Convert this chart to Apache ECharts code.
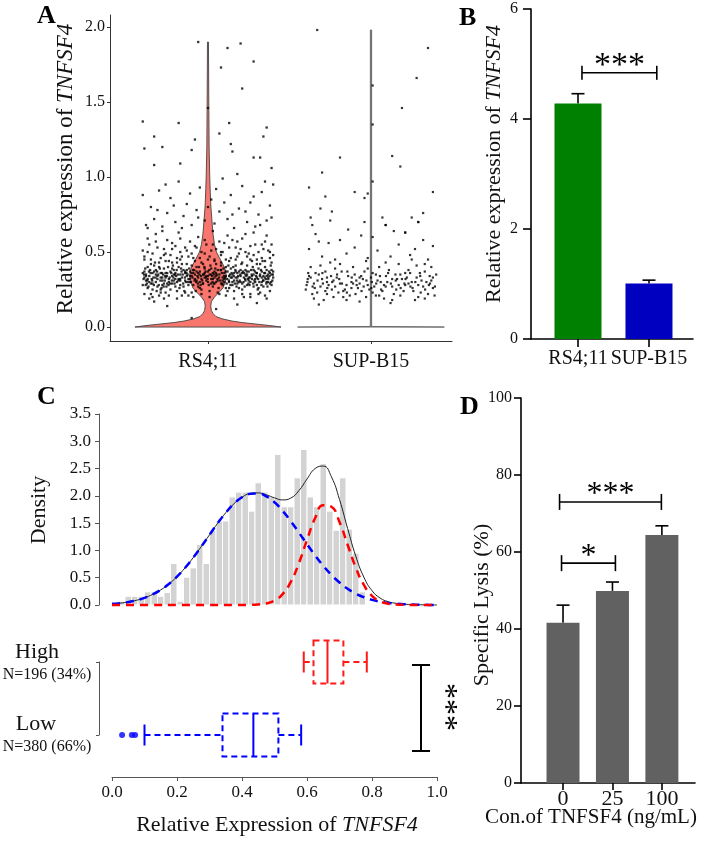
<!DOCTYPE html>
<html><head><meta charset="utf-8">
<script src="https://cdn.jsdelivr.net/npm/echarts@6/dist/echarts.min.js"></script>
<style>html,body{margin:0;padding:0;background:#fff}#c{width:709px;height:842px}</style>
</head><body><div id="c"></div><script>
// ---------- Panel A data ----------
const catA = ['RS4;11', 'SUP-B15'];
const yTicksA = [0, 0.5, 1.0, 1.5, 2.0];
const violinRsY = [0, 0.01, 0.02, 0.03, 0.04, 0.055, 0.07, 0.09, 0.11, 0.14, 0.17, 0.2, 0.23, 0.26, 0.3, 0.35, 0.39, 0.43, 0.46, 0.5, 0.55, 0.62, 0.7, 0.8, 0.9, 1.0, 1.2, 1.5, 1.9];
const violinRsW = [0.448, 0.38, 0.294, 0.209, 0.147, 0.086, 0.049, 0.031, 0.021, 0.017, 0.021, 0.04, 0.067, 0.092, 0.107, 0.112, 0.104, 0.086, 0.071, 0.052, 0.04, 0.031, 0.025, 0.018, 0.014, 0.011, 0.007, 0.005, 0.003];
const violinSupY = [0, 0.004, 1.98];
const violinSupW = [0.45, 0.004, 0.004];
const jitterRs = [
[-0.38,0.31],[-0.35,0.22],[-0.33,0.41],[-0.31,0.27],[-0.29,0.36],[-0.27,0.19],[-0.26,0.33],[-0.24,0.44],[-0.22,0.29],[-0.21,0.38],[-0.19,0.24],[-0.17,0.35],[-0.16,0.42],[-0.14,0.31],[-0.12,0.21],[-0.11,0.37],[-0.09,0.28],[-0.07,0.40],[-0.06,0.33],[-0.04,0.25],[-0.02,0.36],[0.00,0.30],[0.02,0.39],[0.03,0.27],[0.05,0.34],[0.07,0.22],[0.08,0.43],[0.10,0.32],[0.12,0.37],[0.13,0.26],[0.15,0.35],[0.17,0.41],[0.18,0.29],[0.20,0.34],[0.22,0.20],[0.23,0.38],[0.25,0.31],[0.27,0.44],[0.28,0.27],[0.30,0.36],[0.32,0.23],[0.33,0.33],[0.35,0.40],[0.37,0.30],[0.39,0.35],
[-0.39,0.37],[-0.37,0.26],[-0.36,0.34],[-0.34,0.29],[-0.32,0.38],[-0.30,0.21],[-0.28,0.31],[-0.25,0.36],[-0.23,0.25],[-0.20,0.32],[-0.18,0.40],[-0.15,0.27],[-0.13,0.34],[-0.10,0.23],[-0.08,0.35],[-0.05,0.30],[-0.03,0.42],[-0.01,0.34],[0.01,0.24],[0.04,0.37],[0.06,0.31],[0.09,0.28],[0.11,0.40],[0.14,0.33],[0.16,0.24],[0.19,0.37],[0.21,0.29],[0.24,0.35],[0.26,0.22],[0.29,0.32],[0.31,0.39],[0.34,0.27],[0.36,0.34],[0.38,0.24],[0.40,0.33],
[-0.40,0.28],[-0.38,0.35],[-0.36,0.19],[-0.34,0.36],[-0.31,0.32],[-0.29,0.25],[-0.27,0.39],[-0.25,0.29],[-0.22,0.34],[-0.20,0.27],[-0.18,0.32],[-0.16,0.21],[-0.13,0.38],[-0.11,0.30],[-0.09,0.36],[-0.06,0.27],[-0.04,0.32],[-0.02,0.39],[0.01,0.35],[0.03,0.32],[0.05,0.42],[0.08,0.29],[0.10,0.36],[0.12,0.24],[0.15,0.30],[0.17,0.37],[0.19,0.26],[0.22,0.33],[0.24,0.41],[0.26,0.30],[0.28,0.35],[0.31,0.26],[0.33,0.37],[0.35,0.21],[0.37,0.33],[0.39,0.28],
[-0.39,0.33],[-0.37,0.40],[-0.35,0.29],[-0.32,0.35],[-0.30,0.43],[-0.28,0.28],[-0.26,0.23],[-0.23,0.37],[-0.21,0.31],[-0.19,0.43],[-0.17,0.28],[-0.14,0.36],[-0.12,0.32],[-0.10,0.41],[-0.07,0.31],[-0.05,0.37],[-0.03,0.29],[0.00,0.37],[0.02,0.32],[0.04,0.29],[0.07,0.35],[0.09,0.33],[0.11,0.26],[0.14,0.39],[0.16,0.31],[0.18,0.36],[0.21,0.25],[0.23,0.31],[0.25,0.37],[0.27,0.32],[0.30,0.28],[0.32,0.42],[0.34,0.31],[0.36,0.38],[0.38,0.29],[0.40,0.37],
[-0.38,0.34],[-0.36,0.30],[-0.33,0.37],[-0.31,0.34],[-0.28,0.33],[-0.26,0.36],[-0.24,0.32],[-0.21,0.35],[-0.19,0.30],[-0.16,0.33],[-0.14,0.37],[-0.11,0.34],[-0.08,0.32],[-0.06,0.36],[-0.03,0.35],[-0.01,0.31],[0.02,0.35],[0.04,0.33],[0.06,0.38],[0.09,0.31],[0.11,0.34],[0.13,0.30],[0.16,0.36],[0.18,0.33],[0.20,0.30],[0.23,0.35],[0.25,0.33],[0.28,0.38],[0.30,0.33],[0.33,0.30],[0.35,0.36],[0.37,0.32],[0.39,0.38],
[-0.40,0.36],[-0.37,0.32],[-0.34,0.25],[-0.32,0.30],[-0.29,0.33],[-0.27,0.29],[-0.24,0.30],[-0.22,0.39],[-0.20,0.36],[-0.17,0.31],[-0.15,0.38],[-0.12,0.28],[-0.10,0.34],[-0.07,0.37],[-0.05,0.26],[-0.02,0.33],[0.00,0.34],[0.03,0.36],[0.05,0.30],[0.08,0.38],[0.10,0.30],[0.13,0.34],[0.15,0.28],[0.17,0.33],[0.20,0.38],[0.22,0.36],[0.24,0.28],[0.27,0.34],[0.29,0.30],[0.32,0.35],[0.34,0.34],[0.36,0.30],[0.38,0.36],
[-0.395,0.32],[-0.375,0.29],[-0.355,0.38],[-0.335,0.33],[-0.315,0.24],[-0.295,0.39],[-0.275,0.35],[-0.255,0.27],[-0.235,0.33],[-0.215,0.41],[-0.195,0.34],[-0.175,0.26],[-0.155,0.35],[-0.135,0.30],[-0.115,0.39],[-0.095,0.33],[-0.075,0.24],[-0.055,0.40],[-0.035,0.31],[-0.015,0.37],[0.005,0.28],[0.025,0.34],[0.045,0.39],[0.065,0.26],[0.085,0.36],[0.105,0.33],[0.125,0.41],[0.145,0.36],[0.165,0.29],[0.185,0.34],[0.205,0.42],[0.225,0.27],[0.245,0.32],[0.265,0.38],[0.285,0.31],[0.305,0.25],[0.325,0.38],[0.345,0.36],[0.365,0.27],[0.385,0.41],
[-0.385,0.39],[-0.365,0.27],[-0.345,0.32],[-0.325,0.43],[-0.305,0.35],[-0.285,0.26],[-0.265,0.31],[-0.245,0.40],[-0.225,0.36],[-0.205,0.29],[-0.185,0.35],[-0.165,0.39],[-0.145,0.24],[-0.125,0.35],[-0.105,0.30],[-0.085,0.38],[-0.065,0.34],[-0.045,0.28],[-0.025,0.35],[0.015,0.41],[0.035,0.29],[0.055,0.35],[0.075,0.31],[0.095,0.39],[0.115,0.29],[0.135,0.35],[0.155,0.40],[0.175,0.27],[0.195,0.31],[0.215,0.37],[0.235,0.34],[0.255,0.28],[0.275,0.40],[0.295,0.34],[0.315,0.30],[0.335,0.44],[0.355,0.32],[0.375,0.37],[0.395,0.31],
[-0.392,0.35],[-0.372,0.31],[-0.352,0.36],[-0.332,0.28],[-0.312,0.37],[-0.292,0.31],[-0.272,0.27],[-0.252,0.34],[-0.232,0.29],[-0.212,0.33],[-0.192,0.38],[-0.172,0.32],[-0.152,0.29],[-0.132,0.36],[-0.112,0.32],[-0.092,0.38],[-0.072,0.30],[-0.052,0.35],[-0.032,0.29],[-0.012,0.33],[0.008,0.38],[0.028,0.30],[0.048,0.36],[0.068,0.33],[0.088,0.29],[0.108,0.37],[0.128,0.31],[0.148,0.33],[0.168,0.38],[0.188,0.30],[0.208,0.36],[0.228,0.32],[0.248,0.29],[0.268,0.35],[0.288,0.37],[0.308,0.32],[0.328,0.28],[0.348,0.33],[0.368,0.35],[0.388,0.30],
[-0.382,0.28],[-0.362,0.37],[-0.342,0.31],[-0.322,0.33],[-0.302,0.28],[-0.282,0.36],[-0.262,0.34],[-0.242,0.28],[-0.222,0.31],[-0.202,0.35],[-0.182,0.31],[-0.162,0.37],[-0.142,0.33],[-0.122,0.30],[-0.102,0.36],[-0.082,0.31],[-0.062,0.29],[-0.042,0.34],[-0.022,0.40],[-0.002,0.32],[0.018,0.29],[0.038,0.35],[0.058,0.32],[0.078,0.38],[0.098,0.34],[0.118,0.32],[0.138,0.28],[0.158,0.34],[0.178,0.31],[0.198,0.35],[0.218,0.30],[0.238,0.37],[0.258,0.33],[0.278,0.29],[0.298,0.36],[0.318,0.34],[0.338,0.31],[0.358,0.29],[0.378,0.34],[0.398,0.35],
[-0.39,0.45],[-0.35,0.42],[-0.30,0.40],[-0.26,0.44],[-0.22,0.43],[-0.17,0.45],[-0.13,0.42],[-0.08,0.44],[-0.04,0.43],[0.00,0.45],[0.04,0.44],[0.08,0.41],[0.13,0.44],[0.17,0.45],[0.21,0.43],[0.26,0.45],[0.30,0.42],[0.35,0.44],[0.39,0.43],
[-0.39,0.22],[-0.34,0.20],[-0.29,0.23],[-0.24,0.21],[-0.19,0.19],[-0.14,0.23],[-0.09,0.20],[-0.04,0.22],[0.01,0.20],[0.06,0.23],[0.11,0.21],[0.16,0.19],[0.21,0.22],[0.26,0.20],[0.31,0.22],[0.36,0.19],
[-0.39,0.47],[-0.36,0.55],[-0.34,0.49],[-0.32,0.62],[-0.29,0.46],[-0.27,0.52],[-0.25,0.58],[-0.23,0.48],[-0.20,0.54],[-0.18,0.63],[-0.16,0.47],[-0.13,0.51],[-0.11,0.57],[-0.09,0.46],[-0.06,0.60],[-0.04,0.50],[-0.01,0.55],[0.01,0.47],[0.03,0.64],[0.05,0.52],[0.08,0.48],[0.10,0.56],[0.12,0.61],[0.14,0.46],[0.17,0.53],[0.19,0.49],[0.21,0.59],[0.24,0.47],[0.26,0.54],[0.28,0.63],[0.31,0.50],[0.33,0.46],[0.35,0.57],[0.37,0.51],[0.40,0.48],
[-0.40,0.51],[-0.37,0.59],[-0.35,0.45],[-0.31,0.53],[-0.28,0.64],[-0.26,0.49],[-0.22,0.56],[-0.19,0.46],[-0.17,0.59],[-0.14,0.53],[-0.10,0.49],[-0.08,0.54],[-0.05,0.46],[-0.02,0.58],[0.02,0.51],[0.04,0.45],[0.07,0.57],[0.09,0.50],[0.11,0.45],[0.15,0.58],[0.18,0.47],[0.20,0.52],[0.23,0.62],[0.25,0.49],[0.29,0.55],[0.30,0.45],[0.34,0.52],[0.36,0.61],[0.38,0.46],[0.39,0.55],
[-0.37,0.50],[-0.32,0.57],[-0.27,0.48],[-0.22,0.52],[-0.17,0.50],[-0.12,0.47],[-0.07,0.53],[-0.02,0.49],[0.03,0.55],[0.08,0.50],[0.13,0.53],[0.18,0.57],[0.23,0.50],[0.28,0.48],[0.33,0.55],[0.38,0.50],
[-0.38,0.68],[-0.35,0.80],[-0.33,0.72],[-0.30,0.91],[-0.28,0.67],[-0.25,0.76],[-0.23,0.86],[-0.20,0.70],[-0.18,0.97],[-0.15,0.74],[-0.13,0.82],[-0.10,0.68],[-0.07,0.78],[-0.05,0.93],[-0.02,0.71],[0.02,0.85],[0.04,0.69],[0.07,0.77],[0.09,0.99],[0.12,0.72],[0.14,0.88],[0.16,0.66],[0.19,0.79],[0.21,0.94],[0.24,0.70],[0.26,0.83],[0.29,0.67],[0.31,0.75],[0.33,0.90],[0.36,0.71],[0.38,0.81],[0.40,0.95],
[-0.40,0.88],[-0.37,0.66],[-0.31,0.78],[-0.26,0.95],[-0.21,0.81],[-0.16,0.66],[-0.11,0.89],[-0.06,0.73],[0.00,0.80],[0.05,0.92],[0.10,0.83],[0.15,0.75],[0.18,1.02],[0.23,0.77],[0.28,0.87],[0.32,0.68],[0.35,0.97],[0.39,0.73],
[-0.40,1.37],[-0.39,1.19],[-0.33,1.27],[-0.28,1.20],[-0.33,1.08],[-0.18,1.36],[-0.08,1.25],[-0.06,1.90],[0.07,1.29],[0.12,1.86],[0.08,1.73],[0.13,1.36],[0.20,1.89],[0.21,1.59],[0.28,1.77],[0.36,1.33],[0.34,1.27],[0.00,1.46],[0.15,1.17],[0.28,1.13],[0.32,1.13],[-0.10,1.18],[0.14,1.22],[-0.17,1.09],[0.39,1.06],
[-0.25,0.14],[0.05,0.12],[-0.10,0.06],[0.30,0.16],[-0.33,0.17],[0.18,0.15]
];
const jitterSup = [
[-0.39,0.30],[-0.36,0.22],[-0.34,0.36],[-0.31,0.27],[-0.29,0.18],[-0.27,0.33],[-0.24,0.25],[-0.22,0.39],[-0.19,0.29],[-0.17,0.20],[-0.14,0.34],[-0.12,0.26],[-0.09,0.31],[-0.07,0.17],[-0.04,0.37],[-0.02,0.28],[0.01,0.23],[0.03,0.35],[0.06,0.30],[0.08,0.19],[0.11,0.38],[0.13,0.27],[0.16,0.32],[0.18,0.21],[0.21,0.36],[0.23,0.29],[0.26,0.24],[0.28,0.41],[0.31,0.31],[0.33,0.19],[0.36,0.34],[0.38,0.26],
[-0.40,0.25],[-0.37,0.40],[-0.35,0.29],[-0.32,0.15],[-0.30,0.32],[-0.28,0.24],[-0.25,0.43],[-0.23,0.31],[-0.20,0.23],[-0.18,0.37],[-0.15,0.28],[-0.13,0.21],[-0.10,0.35],[-0.08,0.26],[-0.05,0.32],[-0.03,0.20],[0.00,0.33],[0.02,0.27],[0.05,0.40],[0.07,0.24],[0.10,0.30],[0.12,0.16],[0.15,0.35],[0.17,0.28],[0.20,0.24],[0.22,0.33],[0.25,0.30],[0.27,0.18],[0.30,0.36],[0.32,0.27],[0.35,0.22],[0.37,0.31],[0.40,0.35],
[-0.38,0.34],[-0.33,0.23],[-0.28,0.37],[-0.26,0.28],[-0.21,0.33],[-0.16,0.25],[-0.11,0.29],[-0.06,0.34],[-0.01,0.25],[0.04,0.31],[0.09,0.27],[0.14,0.22],[0.19,0.32],[0.24,0.36],[0.29,0.28],[0.34,0.30],[0.39,0.21],
[-0.395,0.28],[-0.37,0.33],[-0.345,0.26],[-0.32,0.35],[-0.295,0.29],[-0.27,0.22],[-0.245,0.34],[-0.22,0.27],[-0.195,0.32],[-0.17,0.24],[-0.145,0.37],[-0.12,0.30],[-0.095,0.22],[-0.07,0.33],[-0.045,0.27],[-0.02,0.39],[0.005,0.30],[0.03,0.21],[0.055,0.34],[0.08,0.28],[0.105,0.36],[0.13,0.32],[0.155,0.25],[0.18,0.35],[0.205,0.29],[0.23,0.38],[0.255,0.26],[0.28,0.33],[0.305,0.23],[0.33,0.37],[0.355,0.28],[0.38,0.33],
[-0.385,0.36],[-0.35,0.19],[-0.31,0.41],[-0.27,0.30],[-0.23,0.20],[-0.19,0.42],[-0.15,0.18],[-0.11,0.40],[-0.07,0.29],[-0.03,0.44],[0.01,0.36],[0.05,0.21],[0.09,0.43],[0.13,0.18],[0.17,0.42],[0.21,0.28],[0.25,0.45],[0.29,0.20],[0.33,0.42],[0.37,0.40],
[-0.388,0.32],[-0.358,0.27],[-0.328,0.31],[-0.298,0.36],[-0.268,0.26],[-0.238,0.30],[-0.208,0.35],[-0.178,0.29],[-0.148,0.23],[-0.118,0.33],[-0.088,0.28],[-0.058,0.24],[-0.028,0.31],[0.002,0.26],[0.032,0.29],[0.062,0.25],[0.092,0.34],[0.122,0.29],[0.152,0.31],[0.182,0.26],[0.212,0.32],[0.242,0.27],[0.272,0.30],[0.302,0.34],[0.332,0.25],[0.362,0.29],[0.392,0.27],
[-0.38,0.52],[-0.34,0.62],[-0.36,0.68],[-0.30,0.47],[-0.26,0.56],[-0.19,0.58],[-0.15,0.49],[-0.10,0.53],[-0.06,0.61],[-0.02,0.46],[0.01,0.60],[0.04,0.51],[0.09,0.68],[0.12,0.47],[0.17,0.55],[0.21,0.63],[0.24,0.48],[0.27,0.52],[0.29,0.70],[0.32,0.58],[0.35,0.45],[0.38,0.54],[-0.22,0.45],[0.14,0.64],[-0.32,0.57],
[-0.38,0.93],[-0.28,0.87],[-0.10,0.90],[0.01,0.97],[-0.02,0.89],[0.38,0.90],[-0.04,0.86],[-0.31,0.79],[-0.24,0.77],[-0.37,0.73],[-0.25,0.71],[-0.04,0.70],[-0.14,0.65],[0.07,0.73],[0.25,0.73],[0.32,0.76],[0.29,0.70],[0.21,0.63],[0.09,0.68],
[-0.19,1.13],[0.13,1.14],[0.18,1.07],[-0.30,1.03],[-0.33,1.98],[0.35,1.86],[0.28,1.66],[0.19,1.46],[0.01,1.61],[0.01,1.35]
];
// ---------- Panel B data ----------
const catB = ['RS4;11', 'SUP-B15'];
const meanB = [4.28, 1.01];
const errB = [0.18, 0.06];
const sigB = [[1.056, 2.11, 4.84]];
const sigBLabel = ['***'];
// ---------- Panel C data ----------
const histBinWidth = 0.02;
const histDensity = [0, 0.07, 0.16, 0.16, 0.16, 0.24, 0.24, 0.16, 0.23, 0.76, 0.07, 0.51, 0.68, 1.11, 0.76, 1.37, 1.54, 1.54, 1.98, 2.07, 2.07, 1.72, 2.24, 2.07, 1.98, 2.76, 1.80, 1.80, 2.33, 2.85, 1.98, 1.80, 2.59, 1.72, 1.37, 2.33, 1.39, 0.95, 0.24];
const curveX = [0, 0.025, 0.05, 0.075, 0.1, 0.125, 0.15, 0.175, 0.2, 0.225, 0.25, 0.275, 0.3, 0.325, 0.35, 0.375, 0.4, 0.425, 0.45, 0.475, 0.5, 0.525, 0.55, 0.575, 0.6, 0.625, 0.65, 0.675, 0.7, 0.725, 0.75, 0.775, 0.8, 0.825, 0.85, 0.875, 0.9, 0.925, 0.95, 0.975, 1.0];
const curveLow = [0.021, 0.034, 0.055, 0.086, 0.131, 0.194, 0.277, 0.386, 0.521, 0.683, 0.869, 1.073, 1.286, 1.497, 1.691, 1.854, 1.974, 2.039, 2.045, 1.991, 1.882, 1.726, 1.537, 1.329, 1.115, 0.908, 0.718, 0.551, 0.411, 0.297, 0.209, 0.142, 0.094, 0.060, 0.038, 0.023, 0.013, 0.008, 0.004, 0.002, 0.001];
const curveHigh = [0, 0, 0, 0, 0, 0, 0, 0, 0, 0, 0, 0, 0, 0, 0, 0, 0.001, 0.002, 0.009, 0.028, 0.081, 0.200, 0.422, 0.766, 1.193, 1.593, 1.828, 1.800, 1.522, 1.104, 0.688, 0.368, 0.169, 0.067, 0.023, 0.007, 0.002, 0, 0, 0, 0];
const curveTotal = [0.021, 0.034, 0.055, 0.086, 0.131, 0.194, 0.277, 0.386, 0.521, 0.683, 0.869, 1.073, 1.286, 1.497, 1.691, 1.854, 1.975, 2.041, 2.054, 2.019, 1.963, 1.926, 1.959, 2.095, 2.308, 2.501, 2.546, 2.351, 1.933, 1.401, 0.897, 0.510, 0.263, 0.127, 0.061, 0.030, 0.015, 0.008, 0.004, 0.002, 0.001];
const boxGroups = ['Low', 'High'];
const groupN = ['N=380 (66%)', 'N=196 (34%)'];
const boxStats = [[0.10, 0.34, 0.435, 0.512, 0.582], [0.59, 0.62, 0.663, 0.712, 0.784]];
const outliersLow = [0.031, 0.061, 0.071];
// ---------- Panel D data ----------
const catD = ['0', '25', '100'];
const meanD = [41.6, 49.9, 64.4];
const errD = [4.6, 2.3, 2.4];
const sigD = [[-0.03, 1.06, 57.1], [-0.07, 1.99, 73]];
const sigDLabel = ['*', '***'];

// ---------- helpers ----------
const FF = 'Liberation Serif';
const boxColors = ['#0000FF', '#FF1A1A'];

function violin(center, ys, ws, fill, stroke) {
  return {
    type: 'custom', xAxisIndex: 0, yAxisIndex: 0, clip: false, z: 1,
    data: [[center, 0]],
    renderItem: function (params, api) {
      const pts = [];
      for (let i = 0; i < ys.length; i++) pts.push(api.coord([center + ws[i], ys[i]]));
      for (let i = ys.length - 1; i >= 0; i--) pts.push(api.coord([center - ws[i], ys[i]]));
      return { type: 'polygon', shape: { points: pts }, style: { fill: fill, stroke: stroke, lineWidth: 0.9 } };
    }
  };
}
function errSeries(xi, means, errs, xs, cap, lw) {
  return {
    type: 'custom', xAxisIndex: xi, yAxisIndex: xi, z: 1,
    data: means.map((m, i) => [xs[i], m, m + errs[i]]),
    renderItem: function (params, api) {
      const a = api.coord([api.value(0), api.value(1)]);
      const b = api.coord([api.value(0), api.value(2)]);
      return { type: 'group', children: [
        { type: 'line', shape: { x1: a[0], y1: a[1], x2: b[0], y2: b[1] }, style: { stroke: '#000', lineWidth: lw } },
        { type: 'line', shape: { x1: b[0] - cap, y1: b[1], x2: b[0] + cap, y2: b[1] }, style: { stroke: '#000', lineWidth: lw } }
      ] };
    }
  };
}
function bracketSeries(xi, list, labels, tick, fs) {
  return {
    type: 'custom', xAxisIndex: xi, yAxisIndex: xi, clip: false, z: 5,
    data: list,
    renderItem: function (params, api) {
      const a = api.coord([api.value(0), api.value(2)]);
      const b = api.coord([api.value(1), api.value(2)]);
      const st = { stroke: '#000', lineWidth: 1.6 };
      return { type: 'group', children: [
        { type: 'line', shape: { x1: a[0], y1: a[1], x2: b[0], y2: b[1] }, style: st },
        { type: 'line', shape: { x1: a[0], y1: a[1] - tick, x2: a[0], y2: a[1] + tick }, style: st },
        { type: 'line', shape: { x1: b[0], y1: b[1] - tick, x2: b[0], y2: b[1] + tick }, style: st },
        { type: 'text', x: (a[0] + b[0]) / 2, y: a[1] - 7, style: { text: labels[params.dataIndex], fontSize: fs, fontFamily: FF, fill: '#000', align: 'center', verticalAlign: 'middle' } }
      ] };
    }
  };
}

const chart = echarts.init(document.getElementById('c'));
const axLabel = (size, extra) => Object.assign({ fontFamily: FF, fontSize: size, color: '#111', showMinLabel: true, showMaxLabel: true, hideOverlap: false, interval: 0 }, extra || {});
const noZero = (o) => Object.assign({ show: true, onZero: false }, o);

const option = {
  backgroundColor: '#fff',
  animation: false,
  grid: [
    { left: 110, top: 15, width: 342, height: 326 },
    { left: 531, top: 9, width: 162, height: 330 },
    { left: 112, top: 414, width: 325, height: 191 },
    { left: 112, top: 662, width: 325, height: 73 },
    { left: 521, top: 398, width: 174, height: 385 }
  ],
  xAxis: [
    { gridIndex: 0, type: 'value', min: 0.399, max: 2.497, splitLine: { show: false },
      axisLine: noZero({ lineStyle: { color: '#333', width: 1 } }),
      axisTick: { show: true, customValues: [1, 2], length: 3, lineStyle: { color: '#333' } },
      axisLabel: axLabel(20, { customValues: [1, 2], margin: 11, formatter: v => catA[Math.round(v) - 1] }) },
    { gridIndex: 1, type: 'value', min: 0.338, max: 2.62, splitLine: { show: false },
      axisLine: noZero({ lineStyle: { color: '#000', width: 1.6 } }),
      axisTick: { show: true, customValues: [1, 2], length: 8, lineStyle: { color: '#000', width: 1.6 } },
      axisLabel: axLabel(20, { customValues: [1, 2], margin: 10, formatter: v => catB[Math.round(v) - 1] }) },
    { gridIndex: 2, type: 'value', min: 0, max: 1, show: false },
    { gridIndex: 3, type: 'value', min: 0, max: 1, interval: 0.2, offset: 42, splitLine: { show: false },
      axisLine: noZero({ lineStyle: { color: '#555', width: 1 } }),
      axisTick: { show: true, length: 4, lineStyle: { color: '#555' } },
      axisLabel: axLabel(17, { margin: 7, formatter: v => v.toFixed(1) }) },
    { gridIndex: 4, type: 'value', min: -0.85, max: 2.67, splitLine: { show: false },
      axisLine: noZero({ lineStyle: { color: '#000', width: 1.6 } }),
      axisTick: { show: true, customValues: [0, 1, 2], length: 7, lineStyle: { color: '#000', width: 1.6 } },
      axisLabel: axLabel(22, { customValues: [0, 1, 2], margin: 5, formatter: v => catD[Math.round(v)] }) }
  ],
  yAxis: [
    { gridIndex: 0, type: 'value', min: -0.093, max: 2.08, splitLine: { show: false },
      axisLine: noZero({ lineStyle: { color: '#333', width: 1 } }),
      axisTick: { show: true, customValues: yTicksA, length: 3, lineStyle: { color: '#333' } },
      axisLabel: axLabel(16, { customValues: yTicksA, margin: 5, formatter: v => v.toFixed(1) }) },
    { gridIndex: 1, type: 'value', min: 0, max: 6, interval: 2, splitLine: { show: false },
      axisLine: noZero({ lineStyle: { color: '#000', width: 1.6 } }),
      axisTick: { show: true, length: 8, lineStyle: { color: '#000', width: 1.6 } },
      axisLabel: axLabel(16, { margin: 13 }) },
    { gridIndex: 2, type: 'value', min: 0, max: 3.5, interval: 0.5, offset: 13, splitLine: { show: false },
      axisLine: noZero({ lineStyle: { color: '#555', width: 1 } }),
      axisTick: { show: true, length: 4, lineStyle: { color: '#555' } },
      axisLabel: axLabel(17, { margin: 8, formatter: v => v.toFixed(1) }) },
    { gridIndex: 3, type: 'category', data: boxGroups, boundaryGap: false, offset: 13,
      axisLine: noZero({ lineStyle: { color: '#555', width: 1 } }),
      axisTick: { show: true, length: 3, lineStyle: { color: '#555' } },
      axisLabel: { show: false } },
    { gridIndex: 4, type: 'value', min: 0, max: 100, interval: 20, splitLine: { show: false },
      axisLine: noZero({ lineStyle: { color: '#000', width: 1.6 } }),
      axisTick: { show: true, length: 7, lineStyle: { color: '#000', width: 1.6 } },
      axisLabel: axLabel(16, { margin: 9 }) }
  ],
  series: [
    // Panel A
    violin(1, violinRsY, violinRsW, '#F8766D', '#444'),
    violin(2, violinSupY, violinSupW, '#777', '#666'),
    { type: 'scatter', xAxisIndex: 0, yAxisIndex: 0, symbol: 'rect', symbolSize: 2.3, z: 3,
      itemStyle: { color: '#000' }, data: jitterRs.map(p => [1 + p[0], p[1]]) },
    { type: 'scatter', xAxisIndex: 0, yAxisIndex: 0, symbol: 'rect', symbolSize: 2.2, z: 3,
      itemStyle: { color: '#000' }, data: jitterSup.map(p => [2 + p[0], p[1]]) },
    // Panel B
    { type: 'bar', xAxisIndex: 1, yAxisIndex: 1, barWidth: 47, z: 2,
      data: meanB.map((m, i) => ({ value: [i + 1, m], itemStyle: { color: i === 0 ? '#008000' : '#0000C0' } })) },
    errSeries(1, meanB, errB, [1, 2], 6.5, 1.6),
    bracketSeries(1, sigB, sigBLabel, 7, 34),
    // Panel C histogram
    { type: 'custom', xAxisIndex: 2, yAxisIndex: 2, z: 1,
      data: histDensity.map((d, i) => [i * histBinWidth, (i + 1) * histBinWidth, d]),
      renderItem: function (params, api) {
        const p0 = api.coord([api.value(0), 0]);
        const p1 = api.coord([api.value(1), api.value(2)]);
        return { type: 'rect', shape: { x: p0[0], y: p1[1], width: p1[0] - p0[0], height: p0[1] - p1[1] },
          style: { fill: '#D3D3D3', stroke: '#fff', lineWidth: 1 } };
      } },
    { type: 'line', xAxisIndex: 2, yAxisIndex: 2, smooth: true, showSymbol: false, clip: false, z: 3,
      lineStyle: { color: '#222', width: 1 }, data: curveX.map((x, i) => [x, curveTotal[i]]) },
    { type: 'line', xAxisIndex: 2, yAxisIndex: 2, smooth: true, showSymbol: false, clip: false, z: 4,
      lineStyle: { color: '#0000FF', width: 2.5, type: [8, 6] }, data: curveX.map((x, i) => [x, curveLow[i]]) },
    { type: 'line', xAxisIndex: 2, yAxisIndex: 2, smooth: true, showSymbol: false, clip: false, z: 5,
      lineStyle: { color: '#FF0000', width: 2.5, type: [8, 6] }, data: curveX.map((x, i) => [x, curveHigh[i]]) },
    // Panel C boxplots
    { type: 'custom', xAxisIndex: 3, yAxisIndex: 3, clip: false, z: 3,
      data: boxStats.map((s, i) => [i].concat(s)),
      renderItem: function (params, api) {
        const cat = api.value(0);
        const c = boxColors[params.dataIndex];
        const P = v => api.coord([v, cat]);
        const mn = P(api.value(1)), q1 = P(api.value(2)), md = P(api.value(3)), q3 = P(api.value(4)), mx = P(api.value(5));
        const y = q1[1], h = 21.5, ch = 10.5;
        const dash = { stroke: c, lineWidth: 2, lineDash: [6, 4] };
        const solid = { stroke: c, lineWidth: 2 };
        return { type: 'group', children: [
          { type: 'rect', shape: { x: q1[0], y: y - h, width: q3[0] - q1[0], height: 2 * h }, style: Object.assign({ fill: 'none' }, dash) },
          { type: 'line', shape: { x1: md[0], y1: y - h, x2: md[0], y2: y + h }, style: solid },
          { type: 'line', shape: { x1: mn[0], y1: y, x2: q1[0], y2: y }, style: dash },
          { type: 'line', shape: { x1: q3[0], y1: y, x2: mx[0], y2: y }, style: dash },
          { type: 'line', shape: { x1: mn[0], y1: y - ch, x2: mn[0], y2: y + ch }, style: solid },
          { type: 'line', shape: { x1: mx[0], y1: y - ch, x2: mx[0], y2: y + ch }, style: solid }
        ] };
      } },
    { type: 'scatter', xAxisIndex: 3, yAxisIndex: 3, symbol: 'circle', symbolSize: 6, clip: false, z: 4,
      itemStyle: { color: '#0000FF' }, data: outliersLow.map(v => [v, 0]) },
    // Panel D
    { type: 'bar', xAxisIndex: 4, yAxisIndex: 4, barWidth: 33, z: 2, itemStyle: { color: '#616161' },
      data: meanD.map((m, i) => [i, m]) },
    errSeries(4, meanD, errD, [0, 1, 2], 6.5, 1.6),
    bracketSeries(4, sigD, sigDLabel, 8, 32)
  ],
  graphic: [
    { type: 'text', x: 37, y: 16, style: { text: 'A', font: 'bold 26px "Liberation Serif"', fill: '#000', verticalAlign: 'middle' } },
    { type: 'text', x: 459, y: 18, style: { text: 'B', font: 'bold 26px "Liberation Serif"', fill: '#000', verticalAlign: 'middle' } },
    { type: 'text', x: 37, y: 397, style: { text: 'C', font: 'bold 26px "Liberation Serif"', fill: '#000', verticalAlign: 'middle' } },
    { type: 'text', x: 460, y: 407, style: { text: 'D', font: 'bold 26px "Liberation Serif"', fill: '#000', verticalAlign: 'middle' } },
    { type: 'text', x: 66, y: 169, rotation: Math.PI / 2, style: { text: '{a|Relative expression of }{b|TNFSF4}', align: 'center', verticalAlign: 'middle',
      rich: { a: { fontFamily: FF, fontSize: 23, fill: '#111' }, b: { fontFamily: FF, fontSize: 23, fontStyle: 'italic', fill: '#111' } } } },
    { type: 'text', x: 494, y: 164, rotation: Math.PI / 2, style: { text: '{a|Relative expression of }{b|TNFSF4}', align: 'center', verticalAlign: 'middle',
      rich: { a: { fontFamily: FF, fontSize: 22, fill: '#111' }, b: { fontFamily: FF, fontSize: 22, fontStyle: 'italic', fill: '#111' } } } },
    { type: 'text', x: 39, y: 510, rotation: Math.PI / 2, style: { text: 'Density', font: '22px "Liberation Serif"', fill: '#111', align: 'center', verticalAlign: 'middle' } },
    { type: 'text', x: 277, y: 825, style: { text: '{a|Relative Expression of }{b|TNFSF4}', align: 'center', verticalAlign: 'middle',
      rich: { a: { fontFamily: FF, fontSize: 22, fill: '#111' }, b: { fontFamily: FF, fontSize: 22, fontStyle: 'italic', fill: '#111' } } } },
    { type: 'text', x: 482, y: 605, rotation: Math.PI / 2, style: { text: 'Specific Lysis (%)', font: '22px "Liberation Serif"', fill: '#111', align: 'center', verticalAlign: 'middle' } },
    { type: 'text', x: 591, y: 817, style: { text: 'Con.of TNFSF4 (ng/mL)', font: '21px "Liberation Serif"', fill: '#111', align: 'center', verticalAlign: 'middle' } },
    { type: 'text', x: 37, y: 652, style: { text: boxGroups[1], font: '22px "Liberation Serif"', fill: '#111', align: 'center', verticalAlign: 'middle' } },
    { type: 'text', x: 47, y: 675, style: { text: groupN[1], font: '16px "Liberation Serif"', fill: '#111', align: 'center', verticalAlign: 'middle' } },
    { type: 'text', x: 36, y: 724, style: { text: boxGroups[0], font: '22px "Liberation Serif"', fill: '#111', align: 'center', verticalAlign: 'middle' } },
    { type: 'text', x: 47, y: 747, style: { text: groupN[0], font: '16px "Liberation Serif"', fill: '#111', align: 'center', verticalAlign: 'middle' } },
    { type: 'line', shape: { x1: 421, y1: 665, x2: 421, y2: 751 }, style: { stroke: '#000', lineWidth: 2 } },
    { type: 'line', shape: { x1: 412, y1: 665, x2: 430, y2: 665 }, style: { stroke: '#000', lineWidth: 2 } },
    { type: 'line', shape: { x1: 412, y1: 751, x2: 430, y2: 751 }, style: { stroke: '#000', lineWidth: 2 } },
    { type: 'text', x: 444, y: 707, rotation: -Math.PI / 2, style: { text: '***', font: '32px "Liberation Serif"', fill: '#000', align: 'center', verticalAlign: 'middle' } }
  ]
};
chart.setOption(option);
</script></body></html>
